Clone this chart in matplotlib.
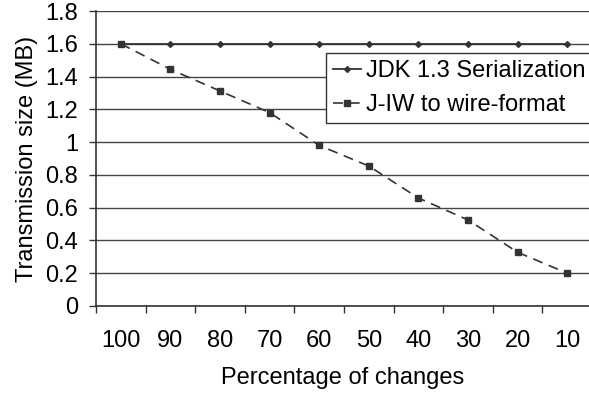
import matplotlib.pyplot as plt
import numpy as np

plt.rcParams['font.family'] = ['Liberation Sans', 'DejaVu Sans']

categories = ['100', '90', '80', '70', '60', '50', '40', '30', '20', '10']
jdk_size = [1.6, 1.6, 1.6, 1.6, 1.6, 1.6, 1.6, 1.6, 1.6, 1.6]
jiw_size = [1.6, 1.444, 1.312, 1.18, 0.98, 0.854, 0.659, 0.525, 0.328, 0.2]
y_ticks = [0, 0.2, 0.4, 0.6, 0.8, 1, 1.2, 1.4, 1.6, 1.8]
y_labels = ['0', '0.2', '0.4', '0.6', '0.8', '1', '1.2', '1.4', '1.6', '1.8']

W, H = 589, 395
FS = 17
fig = plt.figure(figsize=(W / 100, H / 100), dpi=100)
ax = fig.add_axes([96 / W, (H - 306) / H, (592 - 96) / W, 295 / H])

x = np.arange(len(categories))
ax.plot(x, jdk_size, color='#333333', lw=1.3, marker='D', markersize=3,
        label='JDK 1.3 Serialization')
ax.plot(x, jiw_size, color='#333333', lw=1.2, ls=(0, (6, 4)), marker='s',
        markersize=4.5, label='J-IW to wire-format')

ax.set_xlim(-0.5, len(categories) - 0.5)
ax.set_ylim(0, 1.8)
ax.set_yticks(y_ticks)
ax.set_yticklabels(y_labels)
ax.set_xticks(np.arange(len(categories) + 1) - 0.5)
ax.set_xticklabels([])
ax.set_xticks(x, minor=True)
ax.set_xticklabels(categories, minor=True)
ax.tick_params(axis='x', which='major', length=5, width=1, color='#333333')
ax.tick_params(axis='x', which='minor', length=0, pad=17, labelsize=FS)
ax.tick_params(axis='y', length=5, width=1, color='#333333', pad=8, labelsize=FS)

ax.yaxis.grid(True, color='#444444', lw=1)
ax.set_axisbelow(True)
for s in ['top', 'right']:
    ax.spines[s].set_visible(False)
ax.spines['left'].set_color('#333333')
ax.spines['bottom'].set_color('#333333')
ax.spines['left'].set_linewidth(1.2)
ax.spines['bottom'].set_linewidth(1.2)

ax.set_xlabel('Percentage of changes', fontsize=FS, labelpad=11)
ax.set_ylabel('Transmission size (MB)', fontsize=FS, labelpad=5)
ax.xaxis.label.set_x((343 - 96) / (592 - 96))

leg = fig.legend(loc='upper left', bbox_to_anchor=(326 / W, 1 - 53 / H),
                 fontsize=FS, frameon=True, fancybox=False, framealpha=1,
                 edgecolor='#333333', handlelength=1.2, handletextpad=0.2,
                 borderpad=0.3, labelspacing=0.5, borderaxespad=0)
leg.get_frame().set_linewidth(1)

fig.savefig('out.png', dpi=100)
